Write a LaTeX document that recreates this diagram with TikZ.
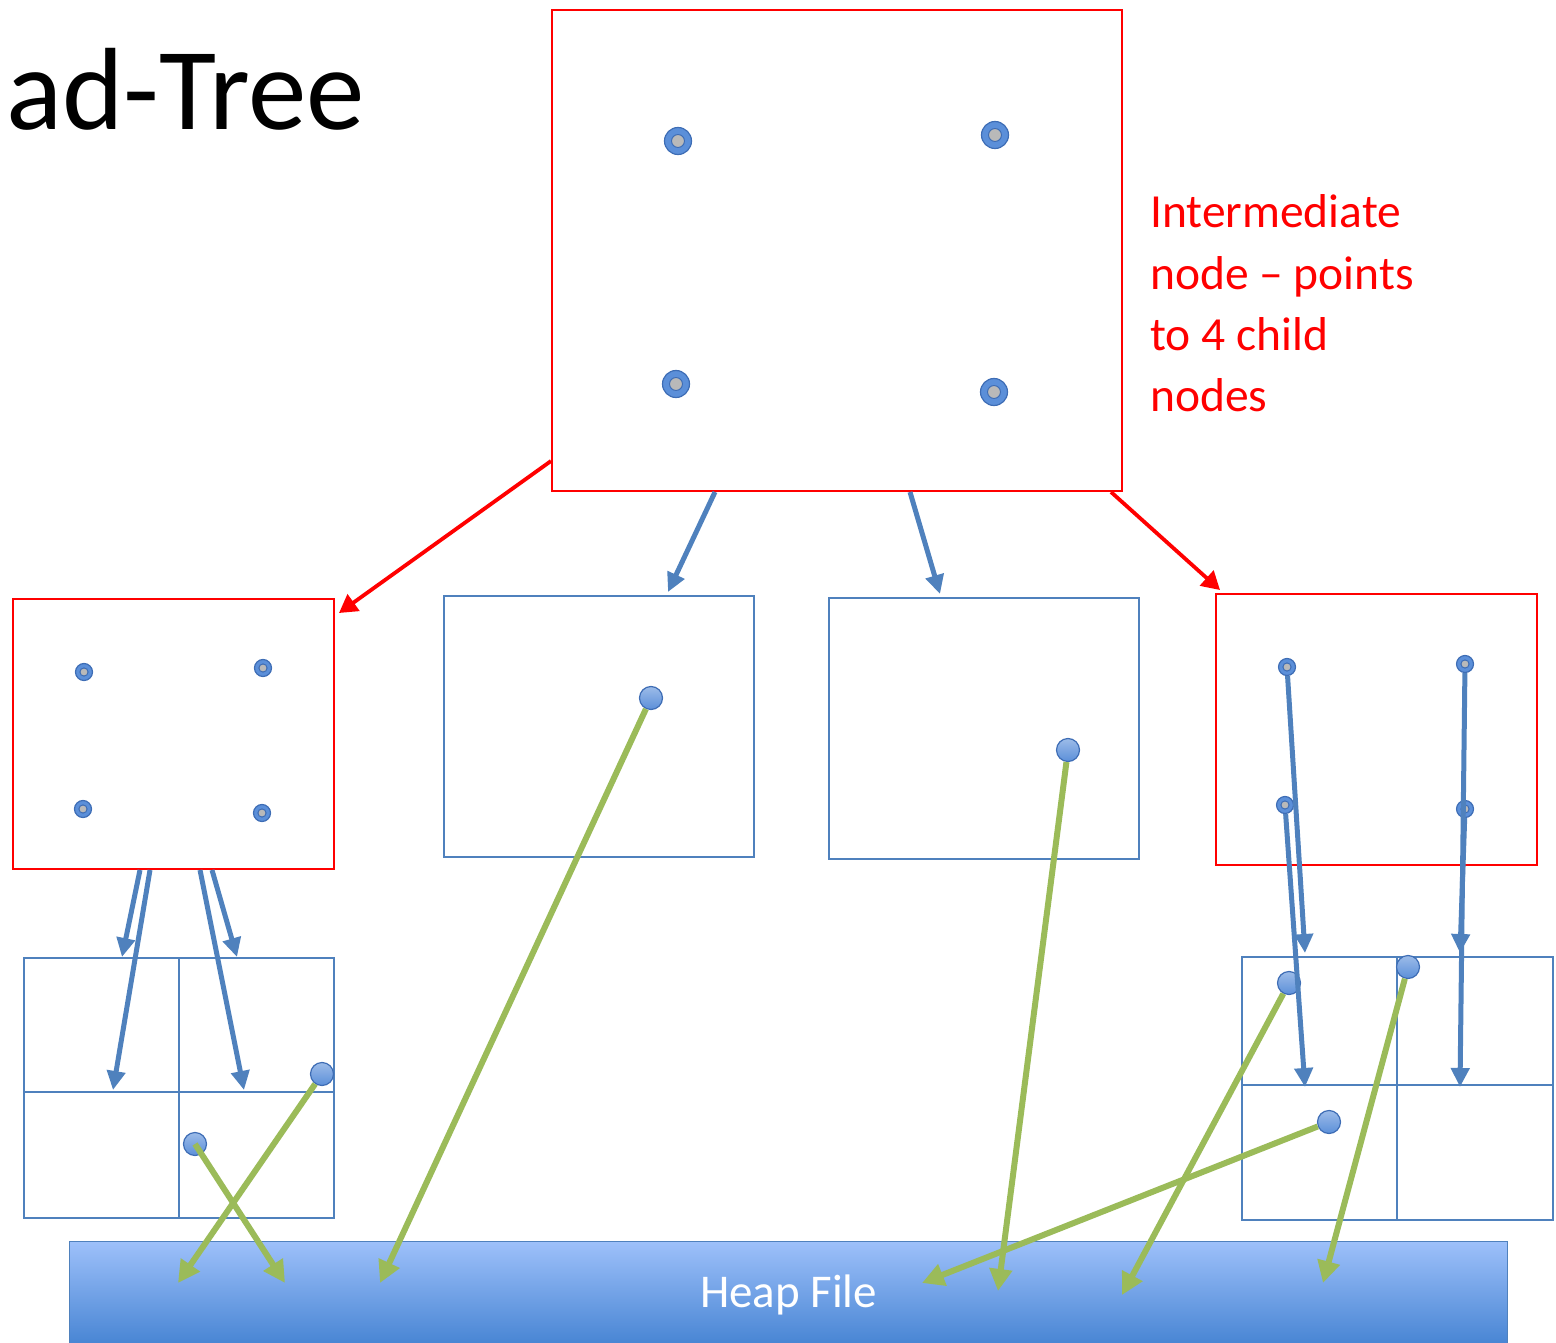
\documentclass[tikz,border=0pt]{standalone}
\usepackage{fontspec}
\setmainfont{Carlito}
\usetikzlibrary{arrows.meta}
\definecolor{redline}{HTML}{FF0000}
\definecolor{blueline}{HTML}{4F81BD}
\definecolor{greenline}{HTML}{9BBB59}
\definecolor{dotfill}{HTML}{5B8FD9}
\definecolor{dotedge}{HTML}{3E6DB5}
\definecolor{heaptop}{HTML}{9DC0FA}
\definecolor{heapbot}{HTML}{4583D2}

\tikzset{
  redbox/.style={draw=redline,line width=2pt,anchor=north west,inner sep=0pt},
  bluebox/.style={draw=blueline,line width=1.8pt,anchor=north west,inner sep=0pt},
  ring/.style={circle,inner sep=0pt,minimum size=#1,fill=dotfill,draw=dotedge,line width=1.2pt,
    path picture={\fill[gray!55,draw=dotedge,line width=1pt]
      (path picture bounding box.center) circle (#1*0.24);}},
  entry/.style={circle,inner sep=0pt,minimum size=23pt,top color=dotfill!60,
    bottom color=dotfill,draw=dotedge,line width=1.2pt},
  redptr/.style={draw=redline,line width=3.8pt,-{Triangle[length=18pt,width=20pt]}},
  ptr/.style={draw=blueline,line width=5pt,-{Triangle[length=19pt,width=18pt]}},
  rid/.style={draw=greenline,line width=6pt,-{Triangle[length=22pt,width=22pt]}}
}

\begin{document}
\begin{tikzpicture}[x=1pt,y=-1pt]
  \useasboundingbox (0,0) rectangle (1556,1343);

  \node[anchor=base west,inner sep=0pt,font=\fontsize{117}{117}\selectfont] (title) at (6,130) {ad-Tree};

  % root and its note
  \node[redbox,minimum width=570pt,minimum height=481pt] (root) at (551,9) {};
  \foreach \t [count=\i] in {Intermediate,node -- points,to 4 child,nodes}
    \node[anchor=base west,inner sep=0pt,text=redline,font=\fontsize{47.5}{47.5}\selectfont]
      (note\i) at (1150,167+61*\i) {\t};
  \node[ring=27pt] (r1) at (678,141) {};
  \node[ring=27pt] (r2) at (995,135) {};
  \node[ring=27pt] (r3) at (676,384) {};
  \node[ring=27pt] (r4) at (994,392) {};

  % the four children
  \node[redbox,minimum width=321pt,minimum height=270pt] (kidA) at (12,598) {};
  \node[bluebox,minimum width=310pt,minimum height=261pt] (kidB) at (443,595) {};
  \node[bluebox,minimum width=310pt,minimum height=261pt] (kidC) at (828,597) {};
  \node[redbox,minimum width=321pt,minimum height=271pt] (kidD) at (1215,593) {};
  \node[ring=17pt] (a1) at (84,672) {};
  \node[ring=17pt] (a2) at (263,668) {};
  \node[ring=17pt] (a3) at (83,809) {};
  \node[ring=17pt] (a4) at (262,813) {};
  \node[ring=17pt] (d1) at (1287,667) {};
  \node[ring=17pt] (d2) at (1465,664) {};
  \node[ring=17pt] (d3) at (1285,805) {};
  \node[ring=17pt] (d4) at (1465,809) {};

  % leaf grids
  \draw[blueline,line width=1.8pt] (24,958) rectangle (334,1218)
    (179,958) -- (179,1218) (24,1092) -- (334,1092);
  \draw[blueline,line width=1.8pt] (1242,957) rectangle (1553,1220)
    (1397,957) -- (1397,1220) (1242,1085) -- (1553,1085);

  % heap file
  \node[anchor=north west,minimum width=1438pt,minimum height=106pt,inner sep=0pt,
    top color=heaptop,bottom color=heapbot,draw=blueline,line width=1.2pt,
    text=white,font=\fontsize{47}{47}\selectfont] (heap) at (69,1241) {\raisebox{-4pt}{Heap File}};

  % tree pointers
  \draw[redptr] ([yshift=31pt]root.south west) -- ([xshift=4pt,yshift=-15pt]kidA.north east);
  \draw[redptr] ([xshift=-12pt]root.south east) -- ([xshift=5pt,yshift=3pt]kidD.north west);
  \draw[ptr] ([xshift=164pt]root.south west) -- ([xshift=225pt,yshift=3pt]kidB.north west);
  \draw[ptr] ([xshift=359pt]root.south west) -- ([xshift=112pt,yshift=3pt]kidC.north west);

  \coordinate (ta1) at (122,957);
  \coordinate (ta2) at (113,1090);
  \coordinate (ta3) at (244,1090);
  \coordinate (ta4) at (237,957);
  \draw[ptr] ([xshift=128pt]kidA.south west) -- (ta1);
  \draw[ptr] ([xshift=138pt]kidA.south west) -- (ta2);
  \draw[ptr] ([xshift=188pt]kidA.south west) -- (ta3);
  \draw[ptr] ([xshift=200pt]kidA.south west) -- (ta4);

  % data entries
  \node[entry] (eA1) at (322,1074) {};
  \node[entry] (eA2) at (195,1144) {};
  \node[entry] (eB) at (651,698) {};
  \node[entry] (eC) at (1068,750) {};
  \node[entry] (eD1) at (1289,983) {};
  \node[entry] (eD2) at (1408,967) {};
  \node[entry] (eD3) at (1329,1122) {};

  \coordinate (td1) at (1305,953);
  \coordinate (td2) at (1460,1087);
  \coordinate (td3) at (1305,1087);
  \coordinate (td4) at (1460,953);
  \foreach \k in {1,...,4}
    \draw[ptr] (d\k) -- (td\k);

  % record ids into the heap
  \coordinate (h1) at (178,1283);
  \coordinate (h2) at (285,1283);
  \coordinate (h3) at (380,1283);
  \coordinate (h4) at (998,1291);
  \coordinate (h5) at (1122,1295);
  \coordinate (h6) at (1323,1283);
  \coordinate (h7) at (922,1283);
  \draw[rid] (eA1) -- (h1);
  \draw[rid] (eA2.center) -- (h2);
  \draw[rid] (eB) -- (h3);
  \draw[rid] (eC) -- (h4);
  \draw[rid] (eD1) -- (h5);
  \draw[rid] (eD2) -- (h6);
  \draw[rid] (eD3) -- (h7);
\end{tikzpicture}
\end{document}
